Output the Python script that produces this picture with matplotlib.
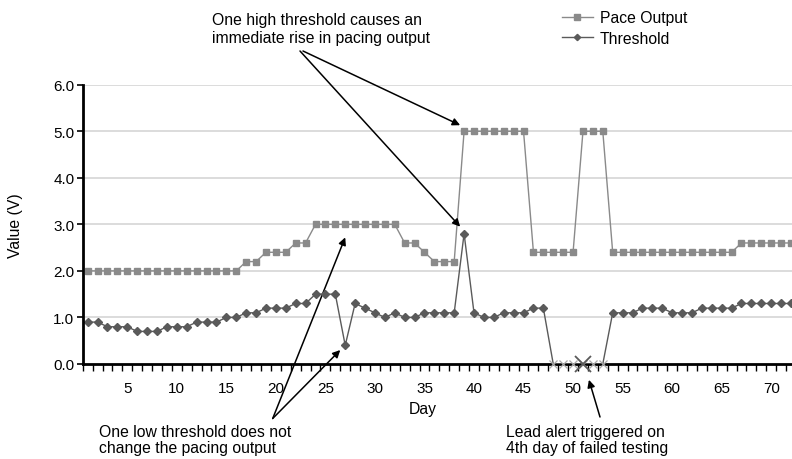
import matplotlib
matplotlib.use("Agg")
import matplotlib.pyplot as plt
from matplotlib.ticker import FixedLocator
from matplotlib.lines import Line2D

plt.rcParams['font.family'] = ['Liberation Sans', 'DejaVu Sans']

days = list(range(1, 73))
pace_output = [2.0, 2.0, 2.0, 2.0, 2.0, 2.0, 2.0, 2.0, 2.0, 2.0, 2.0, 2.0, 2.0, 2.0, 2.0, 2.0,
               2.2, 2.2, 2.4, 2.4, 2.4, 2.6, 2.6,
               3.0, 3.0, 3.0, 3.0, 3.0, 3.0, 3.0, 3.0, 3.0,
               2.6, 2.6, 2.4, 2.2, 2.2, 2.2,
               5.0, 5.0, 5.0, 5.0, 5.0, 5.0, 5.0,
               2.4, 2.4, 2.4, 2.4, 2.4,
               5.0, 5.0, 5.0,
               2.4, 2.4, 2.4, 2.4, 2.4, 2.4, 2.4, 2.4, 2.4, 2.4, 2.4, 2.4, 2.4,
               2.6, 2.6, 2.6, 2.6, 2.6, 2.6]
threshold = [0.9, 0.9, 0.8, 0.8, 0.8, 0.7, 0.7, 0.7, 0.8, 0.8, 0.8, 0.9, 0.9, 0.9,
             1.0, 1.0, 1.1, 1.1, 1.2, 1.2, 1.2, 1.3, 1.3,
             1.5, 1.5, 1.5, 0.4, 1.3, 1.2, 1.1, 1.0, 1.1, 1.0, 1.0,
             1.1, 1.1, 1.1, 1.1, 2.8, 1.1, 1.0, 1.0, 1.1, 1.1, 1.1, 1.2, 1.2,
             0.0, 0.0, 0.0, 0.0, 0.0, 0.0,
             1.1, 1.1, 1.1, 1.2, 1.2, 1.2, 1.1, 1.1, 1.1, 1.2, 1.2, 1.2, 1.2,
             1.3, 1.3, 1.3, 1.3, 1.3, 1.3]
failed_days = [48, 49, 50, 51, 52, 53]
alert_day = 51
y_ticks = [0, 1, 2, 3, 4, 5, 6]
y_labels = ["0.0", "1.0", "2.0", "3.0", "4.0", "5.0", "6.0"]
x_labels = [5, 10, 15, 20, 25, 30, 35, 40, 45, 50, 55, 60, 65, 70]

PACE_C = "#8a8a8a"
THR_C = "#5a5a5a"

fig = plt.figure(figsize=(7.92, 4.6), dpi=100)
W, H = 792, 460
ax = fig.add_axes([82.7 / W, (H - 365) / H, (W - 82.7) / W, (365 - 85.7) / H])

ax.set_xlim(0.5, 72.1)
ax.set_ylim(0, 6)

for v in y_ticks[1:]:
    ax.axhline(v, color="#d9d9d9", lw=1.3, zorder=0)

# Pace output
ax.plot(days, pace_output, color=PACE_C, lw=1.0, marker="s", ms=4.8,
        mfc=PACE_C, mec=PACE_C, zorder=3, clip_on=False)

# Threshold line
ax.plot(days, threshold, color=THR_C, lw=1.0, zorder=3)
ok_days = [d for d in days if d not in failed_days]
ok_vals = [threshold[d - 1] for d in ok_days]
ax.plot(ok_days, ok_vals, ls="none", marker="D", ms=3.9, mfc=THR_C, mec=THR_C, zorder=4)
f_vals = [threshold[d - 1] for d in failed_days]
ax.plot(failed_days, f_vals, ls="none", marker="x", ms=5.5, mew=0.9, color="#a8a8a8",
        zorder=5, clip_on=False)
ax.plot([alert_day], [threshold[alert_day - 1]], ls="none", marker="x", ms=12, mew=1.3,
        color=THR_C, zorder=6, clip_on=False)

# spines
for s in ["top", "right"]:
    ax.spines[s].set_visible(False)
ax.spines["left"].set_linewidth(2)
ax.spines["bottom"].set_linewidth(2)
ax.spines["left"].set_zorder(7)
ax.spines["bottom"].set_zorder(2)

ax.set_yticks(y_ticks)
ax.set_yticklabels(y_labels, fontsize=11)
ax.tick_params(axis="y", direction="out", length=4, width=1.2, pad=2)

ax.set_xticks(x_labels)
ax.set_xticklabels([str(v) for v in x_labels], fontsize=11)
ax.tick_params(axis="x", which="major", length=0, pad=12)
ax.xaxis.set_minor_locator(FixedLocator([d + 0.5 for d in range(0, 72)]))
ax.tick_params(axis="x", which="minor", direction="out", length=5, width=1.0)

ax.set_xlabel("Day", fontsize=11.3)
ax.xaxis.set_label_coords((423 - 82.7) / (W - 82.7), (365 - 402) / (365 - 85.7))
ax.set_ylabel("Value (V)", fontsize=11.3)
ax.yaxis.set_label_coords((23 - 82.7) / (W - 82.7), 0.5)

# legend
handles = [Line2D([], [], color=PACE_C, lw=1.0, marker="s", ms=4.0, mfc=PACE_C, mec=PACE_C),
           Line2D([], [], color=THR_C, lw=1.0, marker="D", ms=3.2, mfc=THR_C, mec=THR_C)]
fig.legend(handles, ["Pace Output", "Threshold"], loc="upper left",
           bbox_to_anchor=(561.5 / W, (H - 11) / H), frameon=False, fontsize=11.3,
           handlelength=2.0, handletextpad=0.45, labelspacing=0.38,
           borderpad=0, borderaxespad=0)

# annotations
fs = 11.3
fig.text(211.7 / W, (H - 29.5) / H, "One high threshold causes an\nimmediate rise in pacing output",
         ha="left", va="center", fontsize=fs, linespacing=1.17)
fig.text(99 / W, (H - 440.5) / H, "One low threshold does not\nchange the pacing output",
         ha="left", va="center", fontsize=fs, linespacing=1.08)
fig.text(506.5 / W, (H - 440.5) / H, "Lead alert triggered on\n4th day of failed testing",
         ha="left", va="center", fontsize=fs, linespacing=1.08)

aprops = dict(arrowstyle="-|>", color="black", lw=1.1, mutation_scale=11,
              shrinkA=0, shrinkB=0)
ax.annotate("", xy=(38.6, 5.13), xycoords="data", xytext=(303, H - 52),
            textcoords="figure pixels", arrowprops=aprops, annotation_clip=False)
ax.annotate("", xy=(38.6, 2.95), xycoords="data", xytext=(300, H - 52),
            textcoords="figure pixels", arrowprops=aprops, annotation_clip=False)
ax.annotate("", xy=(27.0, 2.72), xycoords="data", xytext=(272.7, H - 419.5),
            textcoords="figure pixels", arrowprops=aprops, annotation_clip=False)
ax.annotate("", xy=(26.5, 0.3), xycoords="data", xytext=(272.7, H - 419.5),
            textcoords="figure pixels", arrowprops=aprops, annotation_clip=False)
ax.annotate("", xy=(51.6, -0.34), xycoords="data", xytext=(600, H - 418),
            textcoords="figure pixels", arrowprops=aprops, annotation_clip=False)

fig.savefig("out.png", dpi=100)
